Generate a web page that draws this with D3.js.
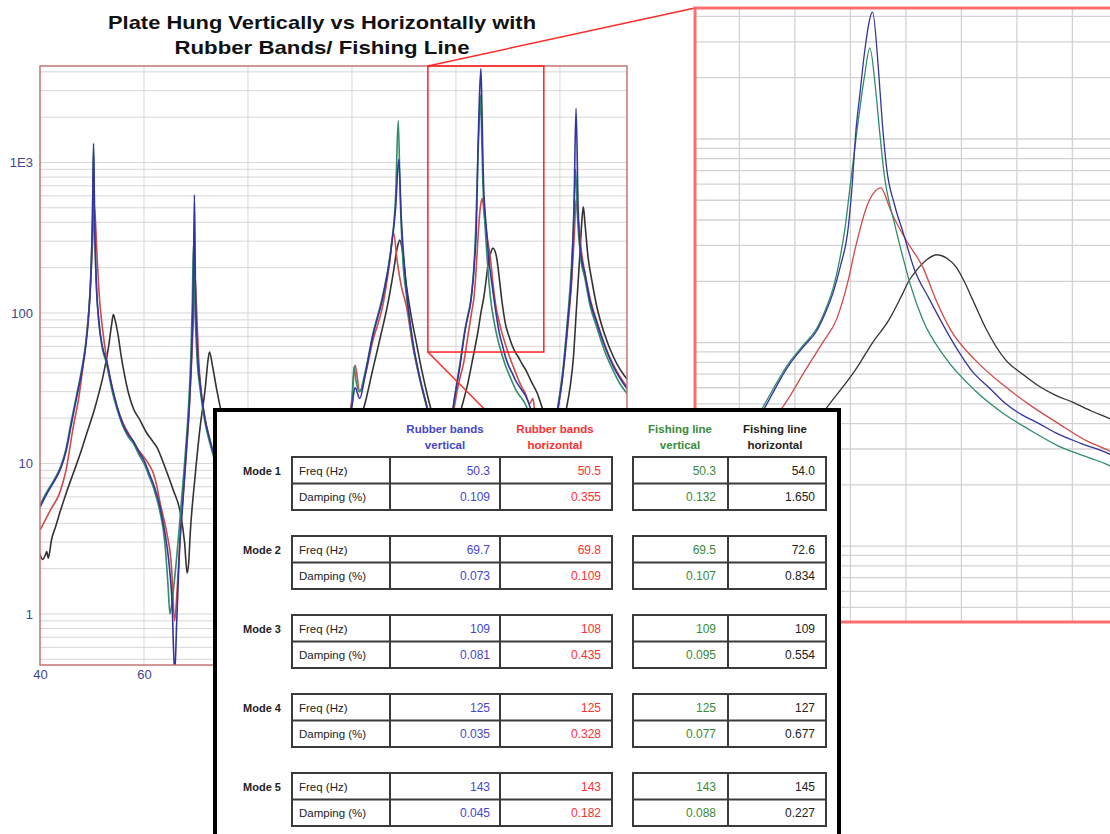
<!DOCTYPE html>
<html>
<head>
<meta charset="utf-8">
<script src="https://cdn.jsdelivr.net/npm/d3@7"></script>
<style>
body { margin: 0; background: #fff; }
svg { display: block; font-family: "Liberation Sans", Arial, sans-serif; }
</style>
</head>
<body>
<script>
var width = 1110
var height = 834

// FRF magnitude curves, [frequency Hz, amplitude]
var rubberVertical = [[40,5.1],[41,6.0],[42,6.9],[43,7.9],[44,9.3],[45,12],[46,18],[47,27],[48,40],[48.8,60],[49.4,100],[49.8,180],[50.1,450],[50.3,1340],[50.5,420],[50.8,170],[51.3,90],[52,60],[52.8,48],[53.8,33],[54.8,24],[56,18],[57,15.5],[58,14],[59,12],[60,10.5],[61,8.6],[62,7],[63,5.3],[64,3.5],[64.8,2.2],[65.4,1.2],[65.9,0.4],[66.3,0.9],[66.8,2.5],[67.5,5.7],[68.2,13],[68.8,27],[69.2,60],[69.5,160],[69.7,610],[69.9,150],[70.3,55],[70.8,34],[71.7,20],[72.7,14.3],[74,10],[76,7],[80,4.5],[85,3.2],[90,3.0],[94,4.0],[97,7],[99,15],[100,24],[100.6,32],[101.5,27],[102.5,38],[104,70],[106,130],[107.5,260],[108.4,500],[109,1050],[109.5,420],[110.5,140],[111.7,65],[113,38],[114.4,24],[116,14],[117.5,10],[118.5,13],[119.5,24],[120.8,45],[121.8,78],[122.3,95],[122.8,115],[123.1,140],[123.4,180],[123.65,240],[123.9,347],[124.05,560],[124.2,1100],[124.35,1700],[124.5,2600],[124.8,4200],[125.0,2300],[125.15,1200],[125.3,730],[125.6,470],[125.9,347],[126.3,230],[126.85,163],[127.3,125],[127.8,95],[128.4,72],[129,60],[129.6,50],[130.2,44],[130.8,40],[131.4,36],[132.3,32],[133.3,28.5],[134.2,24],[135,19],[135.8,15],[136.5,12],[137.5,11],[138.5,15],[139.7,24],[140.6,40],[141.5,86],[142.3,200],[142.7,500],[143.1,2290],[143.5,500],[144,250],[144.8,184],[145.8,120],[147.1,86],[148.5,62],[150.3,44],[151.5,37],[153,31]]
var rubberHorizontal = [[40,3.6],[42,4.9],[43.8,6.4],[45,9],[46.4,17.5],[47.5,28],[48.3,45],[49,73],[49.6,130],[50.1,280],[50.5,500],[50.9,270],[51.4,130],[52,80],[52.8,50],[53.8,33],[54.8,24],[56,18.5],[57.2,15.5],[58.6,12.8],[60,11],[61,9.8],[61.8,8.6],[62.5,7],[63,5.7],[63.8,4.3],[64.4,3.45],[65.3,2.05],[65.9,0.9],[66.4,1.5],[67,3.5],[67.8,8],[68.6,20],[69.2,50],[69.6,110],[69.8,180],[70.1,110],[70.5,50],[71,30],[72,18],[73,13],[74,10],[76,7],[80,4.8],[85,3.6],[90,3.5],[94,4.8],[97,8],[99,16],[100,27],[100.6,45],[101.5,30],[102.5,38],[104,65],[106,115],[107.2,210],[108,340],[108.7,220],[109.5,150],[110.5,110],[111.7,60],[113,37],[114.4,24],[116,15],[117.3,11],[118.5,14],[119.7,24],[120.6,35],[121.5,47],[122.4,74],[123,100],[123.5,130],[123.9,197],[124.2,300],[124.6,470],[124.85,545],[125.1,575],[125.25,530],[125.4,464],[126,320],[126.6,236],[127.1,160],[127.6,116],[128.5,82],[129.5,62],[130.5,49],[131.5,40],[132.5,33],[133.3,29.5],[134.2,25],[134.8,27],[135.3,20],[136,16],[137,13],[138.2,15],[139.7,24],[140.6,40],[141.5,80],[142.3,170],[142.8,350],[143.1,565],[143.5,420],[144,280],[144.8,184],[145.8,125],[147.1,88],[148.5,63],[150.3,45],[151.5,38],[153,32]]
var fishingVertical = [[40,5.3],[41,6.2],[42,7.1],[43,8.1],[44,9.6],[45,12.5],[46,19],[47,28],[48,42],[48.8,63],[49.4,105],[49.8,190],[50.1,450],[50.3,1250],[50.5,400],[50.8,165],[51.3,88],[52,58],[52.8,46],[53.8,31],[54.8,23],[56,17.5],[57,15],[58,13.5],[59,11.5],[60,10],[61,8.2],[62,6.6],[63,4.9],[64,3.0],[64.6,1.6],[65.0,1.0],[65.5,1.3],[66.2,2.2],[67,4.6],[67.8,10],[68.5,22],[69,50],[69.3,120],[69.5,280],[69.8,110],[70.2,50],[70.8,31],[71.7,19],[72.7,13.5],[74,9.5],[76,6.8],[80,4.4],[85,3.1],[90,2.9],[94,3.9],[97,6.8],[99,15],[100,26],[100.4,44],[100.8,35],[101.5,30],[102.5,40],[104,72],[106,135],[107.5,270],[108.4,600],[108.9,1900],[109.3,560],[109.8,220],[110.5,130],[111.7,62],[113,37],[114.4,23.5],[116,14],[117.5,10],[118.5,13],[119.5,24],[120.8,47],[121.8,80],[122.3,97],[122.8,118],[123.1,145],[123.4,190],[123.6,250],[123.8,360],[124.0,600],[124.2,1000],[124.5,2000],[124.7,2800],[124.9,1800],[125.05,1100],[125.2,700],[125.6,380],[125.9,260],[126.2,185],[126.6,130],[127.4,85],[128.5,58],[129.5,45],[130.5,37],[131.5,31],[132.5,27.5],[133.3,25],[134.2,21],[135,17],[136,13],[137,11],[138.3,14],[139.6,24],[140.5,40],[141.4,86],[142.2,200],[142.7,450],[143.0,900],[143.4,420],[144,230],[144.8,170],[145.8,112],[147.1,80],[148.5,57],[150.3,41],[151.5,34],[153,29]]
var fishingHorizontal = [[40,2.5],[40.5,2.3],[41,2.45],[41.3,2.6],[41.6,2.35],[42.2,3.1],[43,3.8],[43.8,4.7],[45,6.3],[46.4,8.6],[47.7,11.5],[49,15.9],[50.5,23],[51.4,30],[52.1,37.6],[53.2,60],[53.8,85],[54.1,97.5],[54.5,88],[55,72],[55.6,52],[56.3,38],[57,29.5],[58,23],[59.2,19.5],[60.5,16],[61.5,14.3],[62.5,12.8],[64,9.5],[65.6,6.7],[67,4.7],[67.8,3.0],[68.3,1.87],[68.6,2.2],[68.9,3.45],[69.8,8],[70.8,17.5],[71.8,32],[72.3,48],[72.6,55],[73.2,44],[74,30.8],[75,21],[76.5,14],[80,8.5],[85,5.2],[90,4.2],[94,5.2],[97,8],[99,12],[100,15],[101,17],[102.5,25],[104,42],[105.5,70],[107,120],[108,190],[108.7,270],[109.2,305],[109.7,260],[110.5,150],[111.4,95],[112.4,63],[113.4,42],[114.4,29.5],[115.5,21],[117,15],[118.3,13],[119.5,16],[120.5,20],[121.1,23.7],[122.2,33],[123.3,51],[124.2,74],[124.8,100],[125.4,130],[125.9,176],[126.1,200],[126.4,228],[126.8,258],[127.1,270],[127.5,258],[127.8,236],[128.1,200],[128.4,163],[128.9,116],[129.6,82],[130.2,70],[130.8,61],[131.4,55],[132,51],[132.7,46],[133.4,42],[134.5,35],[135.6,29.5],[136.5,24],[137.5,19],[138.8,16],[140,17],[141.3,23.7],[142,33],[142.6,51],[143.2,110],[143.8,235],[144.2,400],[144.5,508],[144.8,400],[145.4,237],[146.2,160],[147.1,110],[148.6,72],[150.3,51],[151.6,42],[153,36]]

// table values
var seriesNames = [["Rubber bands", "vertical"], ["Rubber bands", "horizontal"], ["Fishing line", "vertical"], ["Fishing line", "horizontal"]]
var modeNames = ["Mode 1", "Mode 2", "Mode 3", "Mode 4", "Mode 5"]
var rowLabels = ["Freq (Hz)", "Damping (%)"]
var freqRubberVert = ["50.3", "69.7", "109", "125", "143"]
var freqRubberHoriz = ["50.5", "69.8", "108", "125", "143"]
var freqFishVert = ["50.3", "69.5", "109", "125", "143"]
var freqFishHoriz = ["54.0", "72.6", "109", "127", "145"]
var dampRubberVert = ["0.109", "0.073", "0.081", "0.035", "0.045"]
var dampRubberHoriz = ["0.355", "0.109", "0.435", "0.328", "0.182"]
var dampFishVert = ["0.132", "0.107", "0.095", "0.077", "0.088"]
var dampFishHoriz = ["1.650", "0.834", "0.554", "0.677", "0.227"]

var yTicks = [1, 10, 100, 1000]
var xTicks = [40, 60, 80, 100, 120, 140]
var zoomFreq = [114.6, 136.9]
var zoomAmp = [55, 4375]

var lineColors = ["#34349e", "#cf4a4a", "#2f8c68", "#333333"]
var textColors = ["#4545cf", "#ff2f2f", "#3a8a3a", "#222222"]

var svg = d3.select("body").append("svg")
    .attr("width", width)
    .attr("height", height)

var defs = svg.append("defs")

function logGrid(lo, hi) {
    var vals = []
    for (var p = -1; p <= 4; p++) {
        for (var k = 1; k <= 9; k++) {
            var v = k * Math.pow(10, p)
            if (v > lo && v < hi) vals.push(v)
        }
    }
    return vals
}

function drawCurves(g, x, y, clipId, sw) {
    var line = d3.line()
        .curve(d3.curveMonotoneX)
        .x(function(d) { return x(d[0]) })
        .y(function(d) { return y(d[1]) })
    var all = [fishingHorizontal, rubberHorizontal, fishingVertical, rubberVertical]
    var cols = [lineColors[3], lineColors[1], lineColors[2], lineColors[0]]
    var cg = g.append("g").attr("clip-path", "url(#" + clipId + ")")
    all.forEach(function(s, i) {
        cg.append("path")
            .datum(s)
            .attr("d", line)
            .attr("fill", "none")
            .attr("stroke", cols[i])
            .attr("stroke-width", sw)
            .attr("stroke-linejoin", "round")
    })
}

// ---- main chart ----
var mainX = d3.scaleLinear().domain([40, 152.9]).range([40, 627])
var mainY = d3.scaleLog().domain([0.458, 4375]).range([665, 66])

var main = svg.append("g")

defs.append("clipPath").attr("id", "clipMain")
    .append("rect").attr("x", 40).attr("y", 66).attr("width", 587).attr("height", 599)

main.selectAll("line.hgrid")
    .data(logGrid(0.458, 4375))
    .enter().append("line")
    .attr("x1", 40).attr("x2", 627)
    .attr("y1", function(d) { return mainY(d) })
    .attr("y2", function(d) { return mainY(d) })
    .attr("stroke", "#d6d6d6").attr("stroke-width", 1)

main.selectAll("line.vgrid")
    .data(xTicks.slice(1))
    .enter().append("line")
    .attr("x1", function(d) { return mainX(d) })
    .attr("x2", function(d) { return mainX(d) })
    .attr("y1", 66).attr("y2", 665)
    .attr("stroke", "#d6d6d6").attr("stroke-width", 1)

drawCurves(main, mainX, mainY, "clipMain", 1.6)

main.append("rect")
    .attr("x", 40).attr("y", 66).attr("width", 587).attr("height", 599)
    .attr("fill", "none").attr("stroke", "#c47474").attr("stroke-width", 1.5)

var yAxis = main.append("g")
    .attr("transform", "translate(40,0)")
    .call(d3.axisLeft(mainY).tickValues(yTicks).tickSize(0).tickPadding(7)
        .tickFormat(function(d) { return d === 1000 ? "1E3" : d }))
yAxis.select(".domain").remove()
yAxis.selectAll("text").style("font-size", "13px").style("fill", "#44448a")
    .style("font-family", "Liberation Sans, Arial, sans-serif")

var xAxis = main.append("g")
    .attr("transform", "translate(0,665)")
    .call(d3.axisBottom(mainX).tickValues(xTicks).tickSize(0).tickPadding(5))
xAxis.select(".domain").remove()
xAxis.selectAll("text").style("font-size", "13px").style("fill", "#44448a")
    .style("font-family", "Liberation Sans, Arial, sans-serif")

// title
svg.append("text")
    .attr("x", 322).attr("y", 29)
    .attr("text-anchor", "middle")
    .attr("textLength", 428).attr("lengthAdjust", "spacingAndGlyphs")
    .style("font-size", "19px").style("font-weight", "bold").style("fill", "#111")
    .text("Plate Hung Vertically vs Horizontally with")
svg.append("text")
    .attr("x", 322).attr("y", 54)
    .attr("text-anchor", "middle")
    .attr("textLength", 295).attr("lengthAdjust", "spacingAndGlyphs")
    .style("font-size", "19px").style("font-weight", "bold").style("fill", "#111")
    .text("Rubber Bands/ Fishing Line")

// ---- zoom box + connectors ----
var zx0 = mainX(zoomFreq[0]), zx1 = mainX(zoomFreq[1])
var zy0 = mainY(zoomAmp[1]), zy1 = mainY(zoomAmp[0])

var insetLeft = 695, insetTop = 8, insetBottom = 622, insetRight = 1125

svg.append("line")
    .attr("x1", zx0).attr("y1", zy0).attr("x2", insetLeft).attr("y2", insetTop)
    .attr("stroke", "#ff2a2a").attr("stroke-width", 1.5)
svg.append("line")
    .attr("x1", zx0).attr("y1", zy1).attr("x2", insetLeft).attr("y2", insetBottom)
    .attr("stroke", "#ff2a2a").attr("stroke-width", 1.5)
svg.append("rect")
    .attr("x", zx0).attr("y", zy0).attr("width", zx1 - zx0).attr("height", zy1 - zy0)
    .attr("fill", "none").attr("stroke", "#ff2020").attr("stroke-width", 1.5)

// ---- inset ----
var zoomX = d3.scaleLinear().domain([118.4, 118.4 + (insetRight - insetLeft) / 27.75]).range([insetLeft, insetRight])
var zoomY = d3.scaleLog().domain([4.24, 4400]).range([insetBottom, insetTop])

var inset = svg.append("g")
inset.append("rect")
    .attr("x", insetLeft).attr("y", insetTop)
    .attr("width", insetRight - insetLeft).attr("height", insetBottom - insetTop)
    .attr("fill", "#fff")

defs.append("clipPath").attr("id", "clipInset")
    .append("rect").attr("x", insetLeft).attr("y", insetTop)
    .attr("width", insetRight - insetLeft).attr("height", insetBottom - insetTop)

inset.selectAll("line.hgrid")
    .data(logGrid(4.24, 4400))
    .enter().append("line")
    .attr("x1", insetLeft).attr("x2", insetRight)
    .attr("y1", function(d) { return zoomY(d) })
    .attr("y2", function(d) { return zoomY(d) })
    .attr("stroke", "#d2d2d2").attr("stroke-width", 1.3)

inset.selectAll("line.vgrid")
    .data(d3.range(120, 134, 2))
    .enter().append("line")
    .attr("x1", function(d) { return zoomX(d) })
    .attr("x2", function(d) { return zoomX(d) })
    .attr("y1", insetTop).attr("y2", insetBottom)
    .attr("stroke", "#d2d2d2").attr("stroke-width", 1.3)

drawCurves(inset, zoomX, zoomY, "clipInset", 1.3)

inset.append("rect")
    .attr("x", insetLeft).attr("y", insetTop)
    .attr("width", insetRight - insetLeft).attr("height", insetBottom - insetTop)
    .attr("fill", "none").attr("stroke", "#ff6e6e").attr("stroke-width", 3)

// ---- table ----
function drawTable() {
    var t = svg.append("g")
    t.append("rect")
        .attr("x", 215).attr("y", 410).attr("width", 624).attr("height", 450)
        .attr("fill", "#fff").attr("stroke", "#000").attr("stroke-width", 4)

    var headX = [445, 555, 680, 775]
    seriesNames.forEach(function(n, i) {
        n.forEach(function(w, j) {
            t.append("text")
                .attr("x", headX[i]).attr("y", 433 + j * 16)
                .attr("text-anchor", "middle")
                .style("font-size", "11.5px").style("font-weight", "bold")
                .style("fill", textColors[i])
                .text(w)
        })
    })

    var freqCols = [freqRubberVert, freqRubberHoriz, freqFishVert, freqFishHoriz]
    var dampCols = [dampRubberVert, dampRubberHoriz, dampFishVert, dampFishHoriz]
    var valX = [490, 601, 716, 815]
    var rowH = 26.5

    modeNames.forEach(function(m, i) {
        var top = 457 + 79 * i
        t.append("text")
            .attr("x", 281).attr("y", top + 17.5)
            .attr("text-anchor", "end")
            .style("font-size", "11px").style("font-weight", "bold").style("fill", "#222")
            .text(m)

        // two boxed groups per mode
        var groups = [[292, 390, 500, 612], [633, 728, 826]]
        groups.forEach(function(cols) {
            var x0 = cols[0], x1 = cols[cols.length - 1]
            t.append("rect")
                .attr("x", x0).attr("y", top).attr("width", x1 - x0).attr("height", rowH * 2)
                .attr("fill", "none").attr("stroke", "#3a3a3a").attr("stroke-width", 2)
            t.append("line")
                .attr("x1", x0).attr("x2", x1).attr("y1", top + rowH).attr("y2", top + rowH)
                .attr("stroke", "#3a3a3a").attr("stroke-width", 2)
            cols.slice(1, -1).forEach(function(cx) {
                t.append("line")
                    .attr("x1", cx).attr("x2", cx).attr("y1", top).attr("y2", top + rowH * 2)
                    .attr("stroke", "#3a3a3a").attr("stroke-width", 2)
            })
        })

        rowLabels.forEach(function(r, j) {
            t.append("text")
                .attr("x", 299).attr("y", top + 17.5 + j * rowH)
                .style("font-size", "11.5px").style("fill", "#222")
                .text(r)
        })

        for (var k = 0; k < 4; k++) {
            t.append("text")
                .attr("x", valX[k]).attr("y", top + 17.5)
                .attr("text-anchor", "end")
                .style("font-size", "12px").style("fill", textColors[k])
                .text(freqCols[k][i])
            t.append("text")
                .attr("x", valX[k]).attr("y", top + 17.5 + rowH)
                .attr("text-anchor", "end")
                .style("font-size", "12px").style("fill", textColors[k])
                .text(dampCols[k][i])
        }
    })
}

drawTable()
</script>
</body>
</html>
